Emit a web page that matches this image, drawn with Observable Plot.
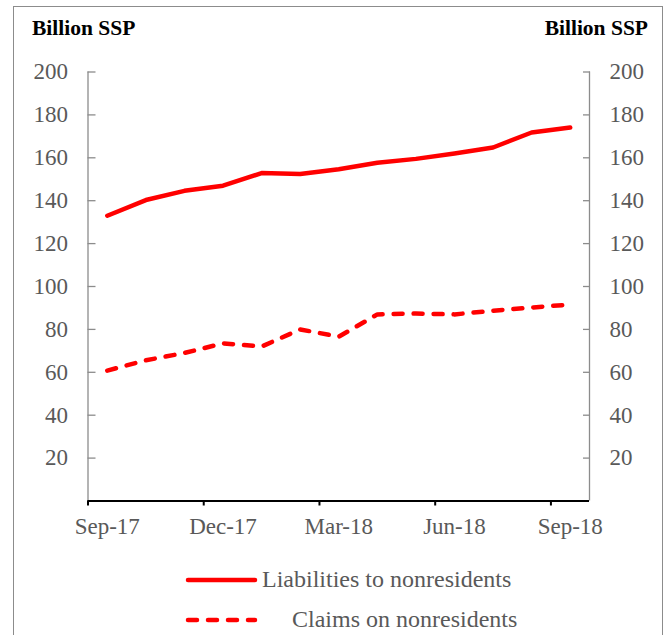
<!DOCTYPE html>
<html>
<head>
<meta charset="utf-8">
<script src="https://cdn.jsdelivr.net/npm/d3@7"></script>
<script src="https://cdn.jsdelivr.net/npm/@observablehq/plot@0.6"></script>
<style>
  html, body { margin: 0; padding: 0; background: #fff; }
  #wrap { position: relative; width: 665px; height: 635px; overflow: hidden; font-family: "Liberation Serif", "Times New Roman", serif; }
  #frame { position: absolute; left: 12.5px; top: 6px; width: 650px; height: 660px; border: 1.5px solid #8c8c8c; box-sizing: border-box; }
  #chart { position: absolute; left: 0; top: 0; }
  .unit { position: absolute; top: 18px; font-weight: bold; font-size: 21.5px; color: #000; line-height: 1; white-space: nowrap; }
  #unitL { left: 32px; }
  #unitR { right: 17px; }
  .leg { position: absolute; left: 0; top: 0; }
  .legtext { position: absolute; font-size: 24px; color: #595959; line-height: 1; white-space: nowrap; }
</style>
</head>
<body>
<div id="wrap">
  <div id="frame"></div>
  <div id="chart"></div>
  <div class="unit" id="unitL">Billion SSP</div>
  <div class="unit" id="unitR">Billion SSP</div>
  <svg class="leg" width="665" height="635" id="legsvg"></svg>
  <div class="legtext" id="leg1" style="left:262px; top:567px;"></div>
  <div class="legtext" id="leg2" style="left:292px; top:607px;"></div>
</div>
<script>
const months = ["Sep-17","Oct-17","Nov-17","Dec-17","Jan-18","Feb-18","Mar-18","Apr-18","May-18","Jun-18","Jul-18","Aug-18","Sep-18"];
const liabilities = [133, 140.3, 144.6, 147, 152.9, 152.4, 154.7, 157.7, 159.5, 162, 164.8, 171.8, 174.1];
const claims = [60.8, 65.6, 69, 73.5, 72, 80, 76.6, 87, 87.4, 87, 88.7, 90.2, 91.6];
const xTickLabels = ["Sep-17","Dec-17","Mar-18","Jun-18","Sep-18"];
const yTicks = [20, 40, 60, 80, 100, 120, 140, 160, 180, 200];
const seriesNames = ["Liabilities to nonresidents", "Claims on nonresidents"];

const rows = months.map((m, i) => ({i, month: m, liabilities: liabilities[i], claims: claims[i]}));
const tickIdx = xTickLabels.map(l => months.indexOf(l));

const chart = Plot.plot({
  width: 665,
  height: 560,
  marginTop: 71.5,
  marginBottom: 59.5,
  marginLeft: 87.5,
  marginRight: 76,
  style: {fontFamily: "Liberation Serif, Times New Roman, serif", fontSize: "23px", background: "transparent", color: "#595959"},
  x: {domain: [0, months.length], axis: null},
  y: {domain: [0, 200], axis: null},
  marks: [
    Plot.ruleX([0, months.length], {y1: 0, y2: 200, stroke: "#8c8c8c", strokeWidth: 1.3}),
    Plot.axisY(yTicks, {anchor: "left", tickSize: -8, tickPadding: 28, stroke: "#8c8c8c", strokeWidth: 1.3, fill: "#595959", fontSize: 23}),
    Plot.axisY(yTicks, {anchor: "right", tickSize: -7, tickPadding: 27, stroke: "#8c8c8c", strokeWidth: 1.3, fill: "#595959", fontSize: 23}),
    Plot.ruleY([0], {stroke: "#000", strokeWidth: 2}),
    Plot.axisX(tickIdx, {anchor: "bottom", tickSize: 5, strokeWidth: 2, stroke: "#000", tickFormat: () => ""}),
    Plot.axisX(tickIdx.map(i => i + 0.5), {anchor: "bottom", tickSize: 0, tickPadding: 17, fill: "#595959", fontSize: 23, tickFormat: d => months[d - 0.5]}),
    Plot.lineY(rows, {x: d => d.i + 0.5, y: "liabilities", stroke: "#ff0000", strokeWidth: 4.5, strokeLinecap: "round", strokeLinejoin: "round"}),
    Plot.lineY(rows, {x: d => d.i + 0.5, y: "claims", stroke: "#ff0000", strokeWidth: 4.5, strokeDasharray: "9,11", strokeLinecap: "round", strokeLinejoin: "round"})
  ]
});
document.getElementById("chart").appendChild(chart);

// legend
const leg = d3.select("#legsvg");
leg.append("line").attr("x1", 188).attr("x2", 255).attr("y1", 580).attr("y2", 580)
  .attr("stroke", "#ff0000").attr("stroke-width", 4.5).attr("stroke-linecap", "round");
leg.append("line").attr("x1", 188).attr("x2", 255).attr("y1", 620).attr("y2", 620)
  .attr("stroke", "#ff0000").attr("stroke-width", 4.5).attr("stroke-linecap", "round").attr("stroke-dasharray", "9,11");
document.getElementById("leg1").textContent = seriesNames[0];
document.getElementById("leg2").textContent = seriesNames[1];
</script>
</body>
</html>
